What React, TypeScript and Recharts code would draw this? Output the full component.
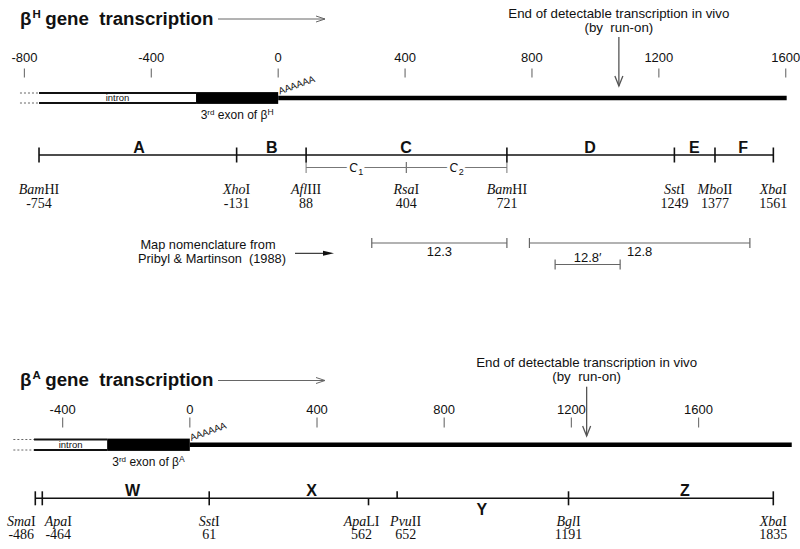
import React from 'react';
import { ComposedChart, XAxis, YAxis, Scatter, ReferenceLine, ReferenceArea } from 'recharts';

const SANS = '"Liberation Sans", Arial, Helvetica, sans-serif';
const SERIF = '"Liberation Serif", "Times New Roman", serif';

// ---------- beta-H gene (bp, 0 = poly(A) site) ----------
const hAxisTicks = [-800, -400, 0, 400, 800, 1200, 1600];
// dotted start, intron start, 3rd exon start, poly(A) site, end of drawn transcript
const hGene = [-814, -754, -259, 0, 1603];
const hRunOnEnd = 1074;
const hSites = [
  { ital: 'Bam', rom: 'HI', bp: -754, mark: 'full' },
  { ital: 'Xho', rom: 'I', bp: -131, mark: 'full' },
  { ital: 'Afl', rom: 'III', bp: 88, mark: 'full' },
  { ital: 'Rsa', rom: 'I', bp: 404, mark: 'none' },
  { ital: 'Bam', rom: 'HI', bp: 721, mark: 'full' },
  { ital: 'Sst', rom: 'I', bp: 1249, mark: 'full' },
  { ital: 'Mbo', rom: 'II', bp: 1377, mark: 'full' },
  { ital: 'Xba', rom: 'I', bp: 1561, mark: 'full' },
];
const hFragments = [
  { name: 'A', at: -439, below: false },
  { name: 'B', at: -20, below: false },
  { name: 'C', at: 403, below: false },
  { name: 'D', at: 983, below: false },
  { name: 'E', at: 1312, below: false },
  { name: 'F', at: 1466, below: false },
];
const hSubFragments = [
  { name: 'C', sub: '1', from: 88, to: 404 },
  { name: 'C', sub: '2', from: 404, to: 721 },
];
const hProbes = [
  { name: '12.3', from: 295, to: 721, tier: 0 },
  { name: '12.8', from: 792, to: 1487, tier: 0 },
  { name: '12.8\u2032', from: 873, to: 1078, tier: 1 },
];

// ---------- beta-A gene ----------
const aAxisTicks = [-400, 0, 400, 800, 1200, 1600];
const aGene = [-555, -490, -260, 0, 1893];
const aRunOnEnd = 1248;
const aSites = [
  { ital: 'Sma', rom: 'I', bp: -486, mark: 'full' },
  { ital: 'Apa', rom: 'I', bp: -464, mark: 'full' },
  { ital: 'Sst', rom: 'I', bp: 61, mark: 'full' },
  { ital: 'Apa', rom: 'LI', bp: 562, mark: 'down' },
  { ital: 'Pvu', rom: 'II', bp: 652, mark: 'up' },
  { ital: 'Bgl', rom: 'I', bp: 1191, mark: 'full' },
  { ital: 'Xba', rom: 'I', bp: 1835, mark: 'full' },
];
const aFragments = [
  { name: 'W', at: -180, below: false },
  { name: 'X', at: 383, below: false },
  { name: 'Y', at: 918, below: true },
  { name: 'Z', at: 1557, below: false },
];

// crowded site labels get nudged sideways (px)
const labelShift: Record<string, number> = { SmaI: -14, ApaI: 16, ApaLI: -7, PvuII: 8.5 };

const hRows = {
  title: 25, titleArrow: 19,
  note: [18, 32], arrowTop: 37, arrowBottom: 86,
  tickLabel: 62, tickTop: 68.5, tickBottom: 77.5,
  geneTop: 93, geneBottom: 103, intronLabel: 101.4, exonLabel: 119,
  map: 155, mapTick: 7.5, fragAbove: 152.5, fragBelow: 170,
  sub: 167.5, subLabel: 171.5,
  siteName: 193.5, siteNum: 207.5,
  probe: [243, 264.5],
};
const aRows = {
  title: 86, titleArrow: 80.5,
  note: [67, 81], arrowTop: 86.7, arrowBottom: 136,
  tickLabel: 114, tickTop: 117.5, tickBottom: 127.5,
  geneTop: 139.5, geneBottom: 150, intronLabel: 148, exonLabel: 166,
  map: 198.3, mapTick: 7, fragAbove: 196, fragBelow: 215,
  sub: 1, subLabel: 1,
  siteName: 225.5, siteNum: 239.3,
  probe: [1, 1],
};

const ScaleTick = ({ x, payload, rows }: any) => (
  <g>
    <text x={x} y={rows.tickLabel} textAnchor="middle" fontFamily={SANS} fontSize={13} fill="#111">
      {payload.value}
    </text>
    <line x1={x} x2={x} y1={rows.tickTop} y2={rows.tickBottom} stroke="#777" strokeWidth={1.2} />
  </g>
);

const renderSite = (p: any, rows: any) => {
  const { cx, payload: s } = p;
  const dx = labelShift[s.ital + s.rom] ?? 0;
  let y1 = rows.map - rows.mapTick;
  let y2 = rows.map + rows.mapTick;
  if (s.mark === 'up') y2 = rows.map;
  if (s.mark === 'down') y1 = rows.map;
  return (
    <g>
      {s.mark !== 'none' && <line x1={cx} x2={cx} y1={y1} y2={y2} stroke="#111" strokeWidth={1.6} />}
      <text x={cx + dx} y={rows.siteName} textAnchor="middle" fontFamily={SERIF} fontSize={14} fill="#111">
        <tspan fontStyle="italic">{s.ital}</tspan>{s.rom}
      </text>
      <text x={cx + dx} y={rows.siteNum} textAnchor="middle" fontFamily={SERIF} fontSize={14} fill="#111">
        {String(s.bp)}
      </text>
    </g>
  );
};

const renderFragment = (p: any) => (
  <text x={p.cx} y={p.cy} textAnchor="middle" fontFamily={SANS} fontWeight="bold" fontSize={16} fill="#111">
    {p.payload.name}
  </text>
);

const Title = ({ rows, sup }: any) => (
  <g>
    <text x={20} y={rows.title} fontFamily={SANS} fontWeight="bold" fontSize={18.7} fill="#111" style={{ whiteSpace: 'pre' }}>
      {'\u03b2'}
      <tspan dx={1} dy={-7} fontSize={11.5}>{sup}</tspan>
      <tspan dx={4.5} dy={7}>{'gene  transcription'}</tspan>
    </text>
    <line x1={218} x2={325} y1={rows.titleArrow} y2={rows.titleArrow} stroke="#666" strokeWidth={1} />
    <polyline
      points={`316,${rows.titleArrow - 3} 325,${rows.titleArrow} 316,${rows.titleArrow + 3}`}
      fill="none" stroke="#666" strokeWidth={1}
    />
  </g>
);

const GenePanel = ({ height, domain, ticks, gene, runOnEnd, sites, fragments, subFragments, probes, rows, sup, note }: any) => {
  const siteData = sites.map((s: any) => ({ ...s, x: s.bp, y: rows.map }));
  const fragData = fragments.map((f: any) => ({ ...f, x: f.at, y: f.below ? rows.fragBelow : rows.fragAbove }));
  const mapFrom = sites[0].bp;
  const mapTo = sites[sites.length - 1].bp;
  const gMid = (rows.geneTop + rows.geneBottom) / 2;

  return (
    <ComposedChart width={800} height={height} margin={{ top: 0, right: 0, bottom: 0, left: 0 }}>
      <XAxis
        type="number" dataKey="x" domain={domain} ticks={ticks} interval={0}
        orientation="top" height={1} axisLine={false} tickLine={false}
        tick={(p: any) => <ScaleTick x={p.x} payload={p.payload} rows={rows} />}
      />
      {/* plot area starts 1px down, so a domain of [1, height] keeps values equal to pixel rows */}
      <YAxis type="number" dataKey="y" domain={[1, height]} reversed hide />

      <Title rows={rows} sup={sup} />
      {note}

      {/* run-on arrow */}
      <ReferenceLine
        segment={[{ x: runOnEnd, y: rows.arrowTop }, { x: runOnEnd, y: rows.arrowBottom }]}
        shape={(p: any) => (
          <g>
            <line x1={p.x1} x2={p.x1} y1={p.y1} y2={p.y2} stroke="#555" strokeWidth={1.3} />
            <polyline points={`${p.x1 - 4},${p.y2 - 10} ${p.x1},${p.y2} ${p.x1 + 4},${p.y2 - 10}`} fill="none" stroke="#555" strokeWidth={1.3} />
            <text x={p.x1} y={rows.note[0]} textAnchor="middle" fontFamily={SANS} fontSize={13.3} fill="#111">
              End of detectable transcription in vivo
            </text>
            <text x={p.x1} y={rows.note[1]} textAnchor="middle" fontFamily={SANS} fontSize={13.3} fill="#111" style={{ whiteSpace: 'pre' }}>
              {'(by  run-on)'}
            </text>
          </g>
        )}
      />

      {/* gene model */}
      <ReferenceLine segment={[{ x: gene[0], y: rows.geneTop }, { x: gene[1], y: rows.geneTop }]} stroke="#666" strokeDasharray="2 2" />
      <ReferenceLine segment={[{ x: gene[0], y: rows.geneBottom }, { x: gene[1], y: rows.geneBottom }]} stroke="#666" strokeDasharray="2 2" />
      <ReferenceArea
        x1={gene[1]} x2={gene[2]} y1={rows.geneTop} y2={rows.geneBottom}
        shape={(p: any) => (
          <g>
            <rect x={p.x} y={p.y} width={p.width} height={p.height} fill="#fff" />
            <line x1={p.x} x2={p.x + p.width} y1={p.y} y2={p.y} stroke="#111" strokeWidth={1.8} />
            <line x1={p.x} x2={p.x + p.width} y1={p.y + p.height} y2={p.y + p.height} stroke="#111" strokeWidth={1.8} />
            <text x={p.x + p.width / 2} y={rows.intronLabel} textAnchor="middle" fontFamily={SANS} fontSize={9.5} fill="#111">intron</text>
          </g>
        )}
      />
      <ReferenceArea
        x1={gene[2]} x2={gene[3]} y1={rows.geneTop} y2={rows.geneBottom}
        shape={(p: any) => (
          <g>
            <rect x={p.x} y={p.y - 0.9} width={p.width} height={p.height + 1.8} fill="#000" />
            <text x={p.x + p.width / 2} y={rows.exonLabel} textAnchor="middle" fontFamily={SANS} fontSize={12} fill="#111">
              3<tspan dy={-4.5} fontSize={8}>rd</tspan>
              <tspan dy={4.5}>{' exon of \u03b2'}</tspan>
              <tspan dy={-4.5} fontSize={8.5}>{sup}</tspan>
            </text>
          </g>
        )}
      />
      <ReferenceLine
        segment={[{ x: gene[3], y: gMid }, { x: gene[4], y: gMid }]}
        shape={(p: any) => (
          <g>
            <line x1={p.x1} x2={p.x2} y1={p.y1} y2={p.y2} stroke="#000" strokeWidth={4.5} />
            <text
              x={p.x1 + 1.5} y={rows.geneTop + 1.5} fontFamily={SANS} fontSize={9.5} fill="#111"
              transform={`rotate(-20 ${p.x1 + 1.5} ${rows.geneTop + 1.5})`}
            >
              AAAAAA
            </text>
          </g>
        )}
      />

      {/* restriction map */}
      <ReferenceLine segment={[{ x: mapFrom, y: rows.map }, { x: mapTo, y: rows.map }]} stroke="#111" strokeWidth={1.6} />
      {subFragments.map((f: any, i: number) => (
        <ReferenceLine
          key={`sub${i}`}
          segment={[{ x: f.from, y: rows.sub }, { x: f.to, y: rows.sub }]}
          shape={(p: any) => (
            <g>
              <line x1={p.x1} x2={p.x2} y1={p.y1} y2={p.y1} stroke="#777" strokeWidth={1} />
              <line x1={p.x1} x2={p.x1} y1={p.y1 - 5.5} y2={p.y1 + 5.5} stroke="#777" strokeWidth={1} />
              <line x1={p.x2} x2={p.x2} y1={p.y1 - 5.5} y2={p.y1 + 5.5} stroke="#777" strokeWidth={1} />
              <text
                x={(p.x1 + p.x2) / 2} y={rows.subLabel} textAnchor="middle" fontFamily={SANS} fontSize={12.5}
                fill="#111" stroke="#fff" strokeWidth={6} paintOrder="stroke"
              >
                {f.name}
                <tspan dy={3} fontSize={9}>{f.sub}</tspan>
              </text>
            </g>
          )}
        />
      ))}
      {probes.map((f: any, i: number) => (
        <ReferenceLine
          key={`probe${i}`}
          segment={[{ x: f.from, y: rows.probe[f.tier] }, { x: f.to, y: rows.probe[f.tier] }]}
          shape={(p: any) => (
            <g>
              <line x1={p.x1} x2={p.x2} y1={p.y1} y2={p.y1} stroke="#666" strokeWidth={1.2} />
              <line x1={p.x1} x2={p.x1} y1={p.y1 - 5} y2={p.y1 + 5} stroke="#666" strokeWidth={1.2} />
              <line x1={p.x2} x2={p.x2} y1={p.y1 - 5} y2={p.y1 + 5} stroke="#666" strokeWidth={1.2} />
              <text
                x={(p.x1 + p.x2) / 2} y={f.tier === 1 ? p.y1 - 3 : p.y1 + 13}
                textAnchor="middle" fontFamily={SANS} fontSize={13} fill="#111"
              >
                {f.name}
              </text>
            </g>
          )}
        />
      ))}
      <Scatter data={siteData} isAnimationActive={false} shape={(p: any) => renderSite(p, rows)} />
      <Scatter data={fragData} isAnimationActive={false} shape={renderFragment} />
    </ComposedChart>
  );
};

const MapNote = () => (
  <g>
    <text x={208} y={249} textAnchor="middle" fontFamily={SANS} fontSize={12.8} fill="#111">Map nomenclature from</text>
    <text x={212} y={262.5} textAnchor="middle" fontFamily={SANS} fontSize={12.8} fill="#111" style={{ whiteSpace: 'pre' }}>
      {'Pribyl & Martinson  (1988)'}
    </text>
    <line x1={295} x2={326} y1={253.3} y2={253.3} stroke="#111" strokeWidth={1} />
    <polygon points="323,250.8 334,253.3 323,255.8" fill="#111" />
  </g>
);

export default function App() {
  return (
    <div style={{ position: 'absolute', left: 0, top: 0, width: 800, height: 549, background: '#fff' }}>
      <GenePanel
        height={300} domain={[-877, 1645]} ticks={hAxisTicks} gene={hGene} runOnEnd={hRunOnEnd}
        sites={hSites} fragments={hFragments} subFragments={hSubFragments} probes={hProbes}
        rows={hRows} sup="H" note={<MapNote />}
      />
      <GenePanel
        height={249} domain={[-597, 1919]} ticks={aAxisTicks} gene={aGene} runOnEnd={aRunOnEnd}
        sites={aSites} fragments={aFragments} subFragments={[]} probes={[]}
        rows={aRows} sup="A" note={null}
      />
    </div>
  );
}
